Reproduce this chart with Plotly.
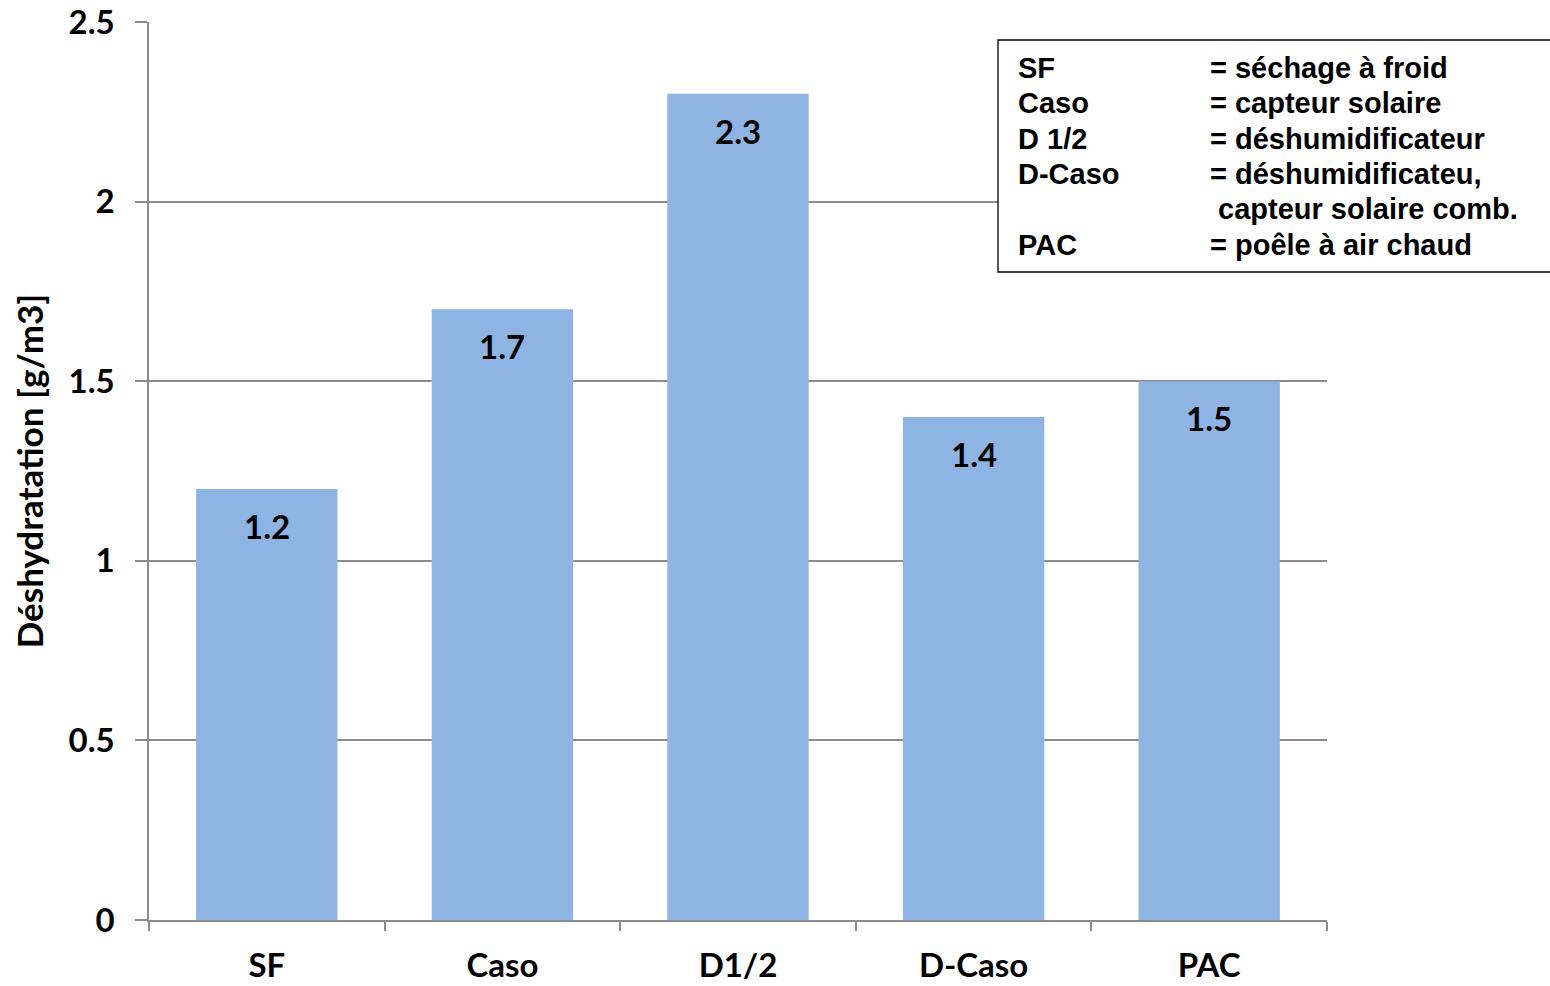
import plotly.graph_objects as go

# Drying methods and measured dehydration
categories = ["SF", "Caso", "D1/2", "D-Caso", "PAC"]
values = [1.2, 1.7, 2.3, 1.4, 1.5]
value_labels = ["1.2", "1.7", "2.3", "1.4", "1.5"]
y_ticks = [0, 0.5, 1, 1.5, 2, 2.5]
y_tick_labels = ["0", "0.5", "1", "1.5", "2", "2.5"]

# Abbreviation key
key_abbrev = ["SF", "Caso", "D 1/2", "D-Caso", "", "PAC"]
key_meaning = ["= séchage à froid", "= capteur solaire", "= déshumidificateur",
               "= déshumidificateu,", "&nbsp;capteur solaire comb.", "= poêle à air chaud"]

W, H = 1550, 986
L, R, T, B = 149, 223, 22, 66
pw, ph = W - L - R, H - T - B

BAR_COLOR = "#8EB4E3"
GRID = "#8c8c8c"
FONT = "Lato"
KEY_FONT = "Arial, 'Liberation Sans', sans-serif"

fig = go.Figure(go.Bar(
    x=categories, y=values, marker=dict(color=BAR_COLOR, line=dict(width=0)),
    width=0.6, hoverinfo="skip",
))

# value labels just inside the top of each bar
for c, v, t in zip(categories, values, value_labels):
    fig.add_annotation(x=c, y=v, text=t, showarrow=False, yanchor="top",
                       yshift=-15, font=dict(family=FONT, size=33, color="black",
                                              weight="bold"))


def px(x):
    return (x - L) / pw


def py(y):
    return (H - B - y) / ph


# key box
fig.add_shape(type="rect", xref="paper", yref="paper",
              x0=px(998), x1=px(1560), y0=py(272), y1=py(40),
              line=dict(color="black", width=1.3), fillcolor="white", layer="above")

line_y = [68, 103, 139, 174, 209, 245]
for yy, a, m in zip(line_y, key_abbrev, key_meaning):
    if a:
        fig.add_annotation(xref="paper", yref="paper", x=px(1016), y=py(yy),
                           xanchor="left", yanchor="middle", text=a, showarrow=False,
                           font=dict(family=KEY_FONT, size=29, color="black",
                                     weight="bold"))
    fig.add_annotation(xref="paper", yref="paper", x=px(1208), y=py(yy),
                       xanchor="left", yanchor="middle", text=m, showarrow=False,
                       font=dict(family=KEY_FONT, size=29, color="black",
                                 weight="bold"))

fig.update_layout(
    width=W, height=H,
    margin=dict(l=L, r=R, t=T, b=B, pad=0),
    paper_bgcolor="white", plot_bgcolor="white",
    showlegend=False,
    font=dict(family=FONT, color="black"),
)

fig.update_xaxes(
    automargin=False,
    showline=True, linecolor=GRID, linewidth=1.5,
    ticks="outside", tickson="boundaries", ticklen=9, tickcolor=GRID, tickwidth=1.5,
    tickfont=dict(family=FONT, size=33, color="black", weight="bold"),
    ticklabelstandoff=16,
    showgrid=False,
)

fig.update_yaxes(
    automargin=False,
    range=[0, 2.5], tickvals=y_ticks, ticktext=y_tick_labels,
    showline=True, linecolor=GRID, linewidth=1.5,
    ticks="outside", ticklen=12, tickcolor=GRID, tickwidth=1.5,
    showgrid=True, gridcolor=GRID, gridwidth=1.5,
    zeroline=False,
    tickfont=dict(family=FONT, size=33, color="black", weight="bold"),
    ticklabelstandoff=14,
    title=dict(text="Déshydratation [g/m3]", standoff=14,
               font=dict(family=FONT, size=35, color="black", weight="bold")),
)

fig.write_html("out.html")
